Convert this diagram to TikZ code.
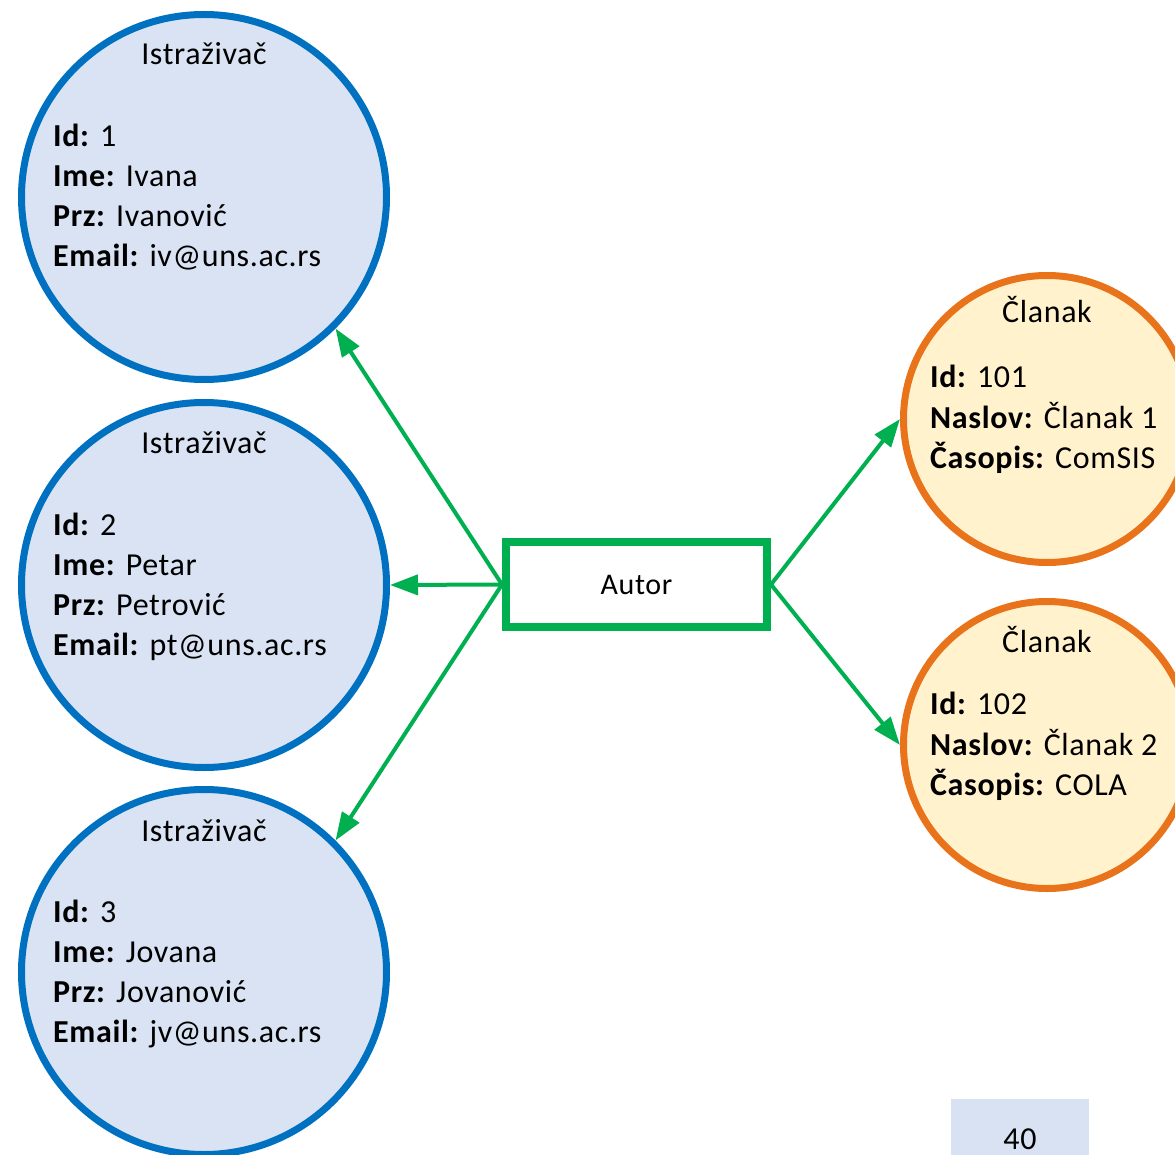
\documentclass[tikz,border=0pt]{standalone}
\usepackage{fontspec}
\setmainfont{Carlito}[LetterSpace=2.0]
\usetikzlibrary{arrows.meta}
\definecolor{istblue}{HTML}{0070C0}
\definecolor{istfill}{HTML}{DAE3F3}
\definecolor{clorange}{HTML}{E8731A}
\definecolor{clfill}{HTML}{FFF2CC}
\definecolor{autgreen}{HTML}{00B050}
\definecolor{pgfill}{HTML}{D9E2F3}

\begin{document}
\begin{tikzpicture}[x=1pt, y=-1pt,
  istr/.style={circle, draw=istblue, fill=istfill, line width=7pt, minimum size=365pt, inner sep=0pt},
  clan/.style={circle, draw=clorange, fill=clfill, line width=7pt, minimum size=287pt, inner sep=0pt},
  autbox/.style={draw=autgreen, line width=8pt, minimum width=261pt, minimum height=85pt, inner sep=0pt, font=\fontsize{30}{36}\selectfont},
  ttl/.style={anchor=base, inner sep=0pt, font=\fontsize{32}{40}\selectfont},
  fld/.style={anchor=base west, inner sep=0pt, font=\fontsize{32}{40}\selectfont},
  aarrow/.style={-{Triangle[length=28pt, width=20pt]}, autgreen, line width=4pt},
]
\useasboundingbox (0,0) rectangle (1175,1155);
% istrazivaci
\node[istr] (ist1) at (204,197) {};
\node[istr] (ist2) at (204,585) {};
\node[istr] (ist3) at (204,972) {};
\node[ttl] (ist1t) at (204,65)  {Istraživač};
\node[fld] (ist1a) at (53,147)  {\textbf{Id:} 1};
\node[fld] (ist1b) at (53,187)  {\textbf{Ime:} Ivana};
\node[fld] (ist1c) at (53,227)  {\textbf{Prz:} Ivanović};
\node[fld] (ist1d) at (53,267)  {\textbf{Email:} iv@uns.ac.rs};
\node[ttl] (ist2t) at (204,453) {Istraživač};
\node[fld] (ist2a) at (53,535)  {\textbf{Id:} 2};
\node[fld] (ist2b) at (53,575)  {\textbf{Ime:} Petar};
\node[fld] (ist2c) at (53,615)  {\textbf{Prz:} Petrović};
\node[fld] (ist2d) at (53,655)  {\textbf{Email:} pt@uns.ac.rs};
\node[ttl] (ist3t) at (204,841) {Istraživač};
\node[fld] (ist3a) at (53,922)  {\textbf{Id:} 3};
\node[fld] (ist3b) at (53,962)  {\textbf{Ime:} Jovana};
\node[fld] (ist3c) at (53,1002) {\textbf{Prz:} Jovanović};
\node[fld] (ist3d) at (53,1042) {\textbf{Email:} jv@uns.ac.rs};
% clanci
\node[clan] (cl1) at (1047,419) {};
\node[clan] (cl2) at (1047,745) {};
\node[ttl] (cl1t) at (1047,323) {Članak};
\node[fld] (cl1a) at (930,388)  {\textbf{Id:} 101};
\node[fld] (cl1b) at (930,428)  {\textbf{Naslov:} Članak 1};
\node[fld] (cl1c) at (930,468)  {\textbf{Časopis:} ComSIS};
\node[ttl] (cl2t) at (1047,652) {Članak};
\node[fld] (cl2a) at (930,714)  {\textbf{Id:} 102};
\node[fld] (cl2b) at (930,755)  {\textbf{Naslov:} Članak 2};
\node[fld] (cl2c) at (930,795)  {\textbf{Časopis:} COLA};
% autor
\node[autbox] (aut) at (636.5,584.5) {Autor};
\draw[aarrow] (aut.west) -- (ist1.south east);
\draw[aarrow] (aut.west) -- (ist2.east);
\draw[aarrow] (aut.west) -- (ist3.north east);
\draw[aarrow] (aut.east) -- (cl1.west);
\draw[aarrow] (aut.east) -- (cl2.west);
% broj strane
\fill[pgfill] (951,1099) rectangle (1089,1155);
\node[ttl] (pgnum) at (1020,1149) {40};
\end{tikzpicture}
\end{document}
